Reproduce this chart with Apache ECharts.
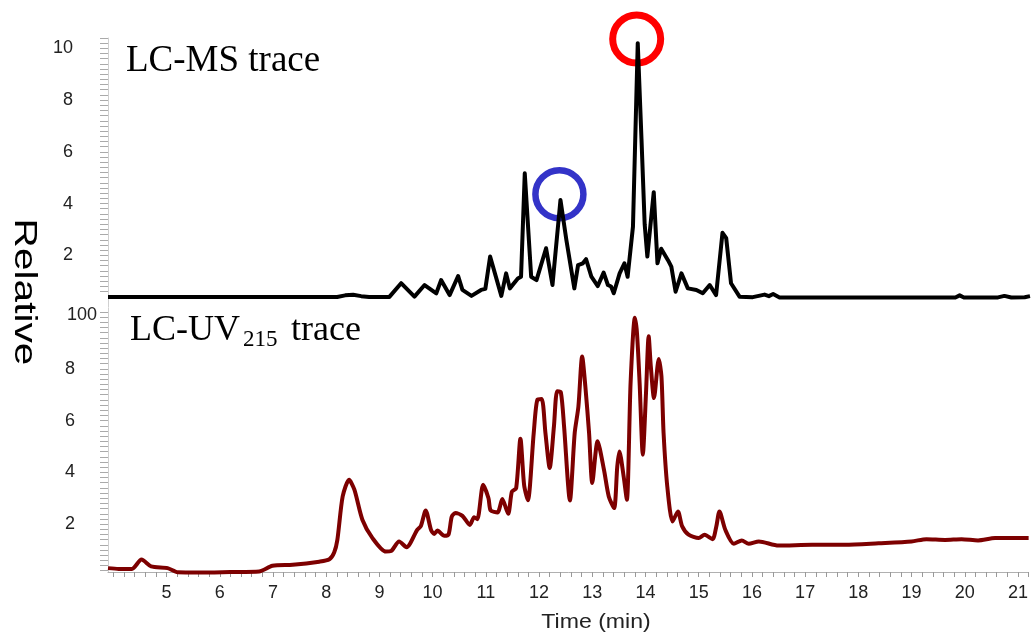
<!DOCTYPE html>
<html>
<head>
<meta charset="utf-8">
<script src="https://cdn.jsdelivr.net/npm/echarts@6/dist/echarts.min.js"></script>
<style>
  html, body { margin: 0; padding: 0; background: #fff; }
  #chart { width: 1031px; height: 635px; }
</style>
</head>
<body>
<div id="chart"></div>
<script>
// LC-MS trace (black), time in min / relative intensity
var msTime = [3.9, 8.2, 8.35, 8.5, 8.65, 8.8, 9.18, 9.4, 9.65, 9.84, 10.06, 10.15, 10.31, 10.47, 10.55, 10.72,
    10.9, 10.98, 11.07, 11.28, 11.37, 11.44, 11.59, 11.65, 11.72, 11.84, 11.94, 12.12, 12.24, 12.39, 12.5,
    12.65, 12.72, 12.81, 12.87, 12.97, 13.09, 13.2, 13.28, 13.34, 13.39, 13.5, 13.59, 13.65, 13.75, 13.84,
    13.91, 13.97, 14.02, 14.14, 14.21, 14.28, 14.41, 14.47, 14.55, 14.66, 14.78, 14.94, 15.06, 15.19, 15.31,
    15.43, 15.5, 15.59, 15.75, 16.0, 16.22, 16.3, 16.38, 16.5, 19.8, 19.88, 19.96, 20.6, 20.72, 20.85, 21.1, 21.2];
var msValue = [0.39, 0.39, 0.45, 0.47, 0.42, 0.39, 0.39, 0.92, 0.40, 0.85, 0.53, 1.04, 0.46, 1.20, 0.66, 0.43,
    0.66, 0.70, 1.95, 0.43, 1.30, 0.72, 1.10, 1.17, 5.17, 1.17, 1.04, 2.27, 0.85, 4.14, 2.60,
    0.72, 1.62, 1.69, 1.85, 1.17, 0.81, 1.33, 0.85, 0.79, 0.53, 1.30, 1.69, 1.17, 3.10, 10.20,
    6.50, 3.20, 1.95, 4.44, 1.69, 2.25, 1.80, 1.56, 0.59, 1.30, 0.72, 0.66, 0.53, 0.85, 0.46,
    2.87, 2.66, 0.92, 0.40, 0.38, 0.48, 0.42, 0.50, 0.37, 0.37, 0.45, 0.37, 0.37, 0.43, 0.37, 0.38, 0.42];

// LC-UV215 trace (dark red)
var uvTime = [3.9, 4.1, 4.35, 4.53, 4.71, 5.02, 5.21, 5.62, 6.2, 6.74, 6.99, 7.37, 7.87, 8.06, 8.15, 8.21, 8.31,
    8.43, 8.53, 8.68, 8.87, 9.12, 9.22, 9.37, 9.51, 9.71, 9.78, 9.87, 9.97, 10.03, 10.09, 10.22, 10.3, 10.36,
    10.43, 10.56, 10.7, 10.78, 10.84, 10.95, 11.05, 11.09, 11.22, 11.31, 11.42, 11.49, 11.57, 11.65, 11.72,
    11.79, 11.9, 11.97, 12.05, 12.12, 12.2, 12.28, 12.34, 12.41, 12.47, 12.58, 12.67, 12.74, 12.81, 12.87,
    12.94, 13.0, 13.1, 13.22, 13.31, 13.41, 13.47, 13.51, 13.59, 13.65, 13.72, 13.8, 13.84, 13.89, 13.95,
    14.01, 14.06, 14.1, 14.16, 14.25, 14.3, 14.34, 14.41, 14.51, 14.61, 14.69, 14.81, 15.0, 15.11, 15.26,
    15.33, 15.39, 15.5, 15.66, 15.81, 15.94, 16.13, 16.5, 17.13, 17.75, 18.38, 19.0, 19.28, 19.63, 19.94,
    20.25, 20.57, 21.2];
var uvValue = [0.30, 0.27, 0.27, 0.63, 0.37, 0.30, 0.14, 0.13, 0.15, 0.17, 0.39, 0.43, 0.55, 0.64, 0.90, 1.39, 3.07,
    3.71, 3.33, 2.17, 1.46, 0.94, 0.96, 1.33, 1.11, 1.78, 1.93, 2.53, 1.78, 1.62, 1.75, 1.55, 1.60, 2.29,
    2.43, 2.32, 1.97, 2.27, 2.19, 3.52, 3.00, 2.53, 2.45, 2.97, 2.40, 3.26, 3.39, 5.30, 3.50,
    2.92, 5.52, 6.81, 6.83, 5.52, 4.17, 5.78, 7.13, 7.09, 5.78, 2.91, 5.52, 6.55, 8.48, 7.32,
    5.52, 3.59, 5.20, 4.10, 3.07, 2.62, 4.23, 4.81, 3.84, 2.94, 7.45, 9.97, 9.39, 7.45, 4.68,
    7.07, 9.26, 8.10, 6.87, 8.38, 7.71, 5.52, 3.45, 2.10, 2.49, 1.91, 1.59, 1.46, 1.59, 1.42,
    1.90, 2.49, 1.78, 1.24, 1.37, 1.24, 1.33, 1.17, 1.20, 1.20, 1.26, 1.33, 1.42, 1.39, 1.42,
    1.37, 1.46, 1.46];

// marked peaks in the MS trace
var redMark = [13.82, 10.36];
var blueMark = [12.37, 4.36];

// tick labels
var timeLabels = [5, 6, 7, 8, 9, 10, 11, 12, 13, 14, 15, 16, 17, 18, 19, 20, 21];
var msLabels = [2, 4, 6, 8, 10];
var uvLabels = [2, 4, 6, 8];

function zip(a, b) {
    var out = [];
    for (var i = 0; i < a.length; i++) out.push([a[i], b[i]]);
    return out;
}
function steps(from, to) {
    // ruler ticks every 0.2
    var out = [];
    for (var i = from; i <= to; i++) out.push(i / 5);
    return out;
}

var tickFont = { fontFamily: 'Liberation Sans', fontSize: 18, color: '#222' };

var chart = echarts.init(document.getElementById('chart'));
var option = {
    backgroundColor: '#fff',
    animation: false,
    grid: [
        { left: 108, right: 1, top: 38, height: 269 },
        { left: 108, right: 1, top: 308, height: 264 }
    ],
    xAxis: [
        {
            gridIndex: 0, type: 'value', min: 3.9, max: 21.2,
            axisLine: { show: false }, axisTick: { show: false },
            axisLabel: { show: false }, splitLine: { show: false }
        },
        {
            gridIndex: 1, type: 'value', min: 3.9, max: 21.2,
            axisLine: { onZero: false, lineStyle: { color: '#b0b0b0', width: 1 } },
            axisTick: { customValues: steps(20, 106), length: 5, lineStyle: { color: '#999' } },
            axisLabel: Object.assign({ customValues: timeLabels, margin: 12 }, tickFont),
            splitLine: { show: false }
        }
    ],
    yAxis: [
        {
            gridIndex: 0, type: 'value', min: 0, max: 10.4,
            axisLine: { show: true, lineStyle: { color: '#d0d0d0' } },
            axisTick: { customValues: steps(3, 52), length: 8, lineStyle: { color: '#aaa' } },
            axisLabel: Object.assign({ customValues: msLabels, margin: 35 }, tickFont),
            splitLine: { show: false }
        },
        {
            gridIndex: 1, type: 'value', min: 0.15, max: 10.35,
            axisLine: { show: true, lineStyle: { color: '#d0d0d0' } },
            axisTick: { customValues: steps(1, 51), length: 8, lineStyle: { color: '#aaa' } },
            axisLabel: Object.assign({ customValues: uvLabels, margin: 33 }, tickFont),
            splitLine: { show: false }
        }
    ],
    series: [
        {
            name: 'marks', type: 'scatter', xAxisIndex: 0, yAxisIndex: 0, z: 1,
            symbol: 'circle', symbolSize: 48, silent: true,
            data: [
                { value: redMark, itemStyle: { opacity: 1, color: 'rgba(0,0,0,0)', borderColor: '#ff0000', borderWidth: 7 } },
                { value: blueMark, itemStyle: { opacity: 1, color: 'rgba(0,0,0,0)', borderColor: '#3333c8', borderWidth: 6.5 } }
            ]
        },
        {
            name: 'LC-MS', type: 'line', xAxisIndex: 0, yAxisIndex: 0, z: 3,
            showSymbol: false, clip: false,
            lineStyle: { color: '#000', width: 4, join: 'round' },
            data: zip(msTime, msValue)
        },
        {
            name: 'LC-UV215', type: 'line', xAxisIndex: 1, yAxisIndex: 1, z: 3,
            showSymbol: false, clip: false, smooth: 0.25,
            lineStyle: { color: '#7d0000', width: 4, join: 'round' },
            data: zip(uvTime, uvValue)
        }
    ],
    graphic: [
        {
            type: 'text', x: 24, y: 292, rotation: -Math.PI / 2, scaleX: 1.27,
            style: { text: 'Relative', font: '32px "Liberation Sans"', fill: '#000', textAlign: 'center', textVerticalAlign: 'middle' }
        },
        {
            type: 'text', x: 126, y: 61,
            style: { text: 'LC-MS trace', font: '37px "Liberation Serif"', fill: '#000', textVerticalAlign: 'middle' }
        },
        {
            type: 'text', x: 130, y: 331,
            style: { text: 'LC-UV', font: '36px "Liberation Serif"', fill: '#000', textVerticalAlign: 'middle' }
        },
        {
            type: 'text', x: 243, y: 340,
            style: { text: '215', font: '23px "Liberation Serif"', fill: '#000', textVerticalAlign: 'middle' }
        },
        {
            type: 'text', x: 291, y: 331,
            style: { text: 'trace', font: '36px "Liberation Serif"', fill: '#000', textVerticalAlign: 'middle' }
        },
        {
            type: 'text', x: 67, y: 315,
            style: { text: '100', font: '18px "Liberation Sans"', fill: '#222', textVerticalAlign: 'middle' }
        },
        {
            type: 'text', x: 596, y: 622, scaleX: 1.1,
            style: { text: 'Time (min)', font: '21px "Liberation Sans"', fill: '#222', textAlign: 'center', textVerticalAlign: 'middle' }
        }
    ]
};
chart.setOption(option);
</script>
</body>
</html>
